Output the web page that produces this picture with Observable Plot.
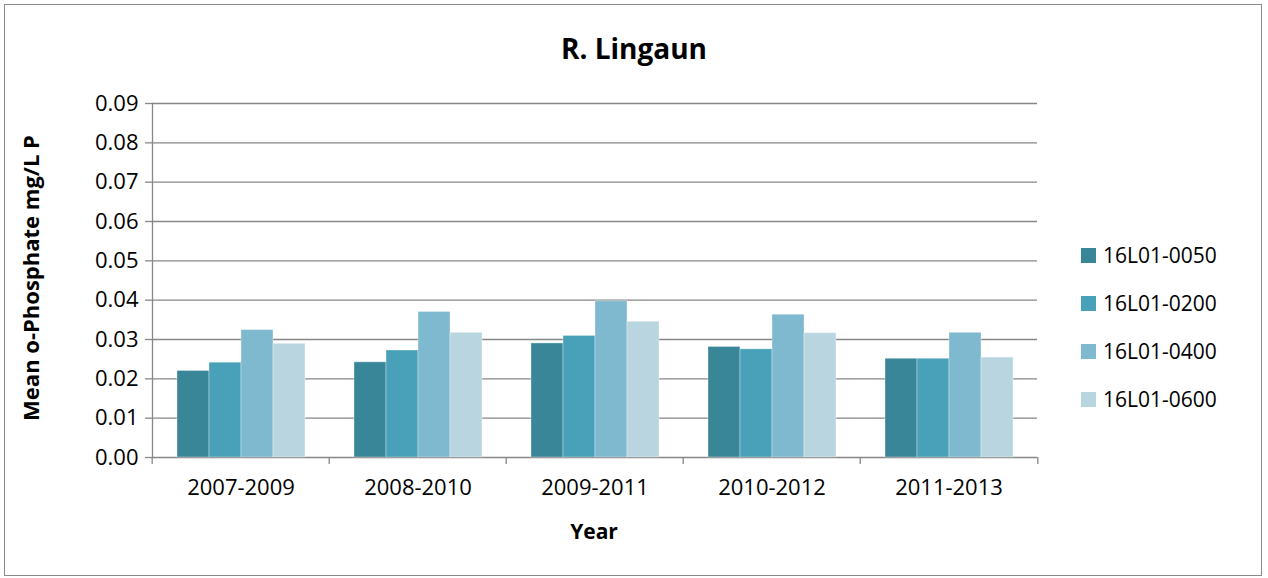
<!DOCTYPE html>
<html>
<head>
<meta charset="utf-8">
<script src="https://cdn.jsdelivr.net/npm/d3@7"></script>
<script src="https://cdn.jsdelivr.net/npm/@observablehq/plot@0.6"></script>
<style>
  html, body { margin: 0; padding: 0; background: #fff; }
  #wrap { position: relative; width: 1268px; height: 578px; overflow: hidden; background: #fff; font-family: "Open Sans", sans-serif; color: #000; }
  #border { position: absolute; left: 4px; top: 4px; width: 1258px; height: 572px; border: 1px solid #8a8a8a; box-sizing: border-box; }
  #chart { position: absolute; left: 0; top: 0; }
  #title { position: absolute; left: 0; top: 30px; width: 1268px; text-align: center; font-weight: bold; font-size: 28px; line-height: 36px; }
  #ylabel { position: absolute; left: 30px; top: 278px; white-space: nowrap; font-weight: bold; font-size: 22px; line-height: 26px; transform: translate(-50%, -50%) rotate(-90deg); }
  #xlabel { position: absolute; left: 150px; width: 888px; top: 518px; text-align: center; font-weight: bold; font-size: 21px; line-height: 26px; }
  #legend { position: absolute; left: 1081px; top: 231px; }
  .row { height: 48px; display: flex; align-items: center; font-size: 21px; }
  .sw { width: 15px; height: 15px; margin-right: 7px; }
</style>
</head>
<body>
<div id="wrap">
  <div id="border"></div>
  <div id="chart"></div>
  <div id="title">R. Lingaun</div>
  <div id="ylabel">Mean o-Phosphate mg/L P</div>
  <div id="xlabel">Year</div>
  <div id="legend"></div>
</div>
<script>
const periods = ["2007-2009", "2008-2010", "2009-2011", "2010-2012", "2011-2013"];
const stations = ["16L01-0050", "16L01-0200", "16L01-0400", "16L01-0600"];
const s0050 = [0.0220, 0.0242, 0.0290, 0.0281, 0.0251];
const s0200 = [0.0241, 0.0272, 0.0309, 0.0275, 0.0251];
const s0400 = [0.0324, 0.0370, 0.0397, 0.0363, 0.0317];
const s0600 = [0.0289, 0.0317, 0.0345, 0.0316, 0.0254];
const colors = ["#3a8699", "#48a1b9", "#7eb9cf", "#b8d5e0"];
const yTicks = [0, 0.01, 0.02, 0.03, 0.04, 0.05, 0.06, 0.07, 0.08, 0.09];

const series = [s0050, s0200, s0400, s0600];
const data = [];
periods.forEach((p, i) => {
  stations.forEach((s, j) => data.push({period: p, station: s, value: series[j][i]}));
});

const W = 1268, H = 578, ML = 150, MR = 230, MT = 103, MB = 121;
const bw = (W - ML - MR) / periods.length;
const gray = "#878787";

const chart = Plot.plot({
  width: W, height: H,
  marginLeft: ML, marginRight: MR, marginTop: MT, marginBottom: MB,
  style: {fontFamily: "Open Sans, sans-serif", fontSize: "22px", color: "#000", background: "transparent", overflow: "visible"},
  fx: {domain: periods, padding: 0, label: null},
  x: {domain: stations, paddingInner: 0, paddingOuter: 0.75, axis: null},
  y: {domain: [0, 0.09], label: null},
  color: {domain: stations, range: colors},
  marks: [
    Plot.gridY(yTicks, {stroke: gray, strokeOpacity: 1, strokeWidth: 1.3}),
    Plot.barY(data, {fx: "period", x: "station", y: "value", fill: "station", stroke: "#ffffff", strokeOpacity: 0.35, strokeWidth: 1}),
    Plot.frame({anchor: "left", facetAnchor: "left", stroke: gray, strokeWidth: 1.3}),
    Plot.axisY({ticks: yTicks, tickFormat: d => d.toFixed(2), tickSize: 7, tickPadding: 7, stroke: gray, strokeWidth: 1.3, label: null, fontSize: 22}),
    Plot.axisFx({anchor: "bottom", ticks: periods, text: null, tickSize: 7, dx: -bw / 2, stroke: gray, strokeWidth: 1.3, label: null}),
    Plot.axisFx({anchor: "bottom", ticks: periods.slice(-1), text: null, tickSize: 7, dx: bw / 2, stroke: gray, strokeWidth: 1.3, label: null}),
    Plot.axisFx({anchor: "bottom", ticks: periods, tickSize: 0, tickPadding: 22, label: null, fontSize: 22})
  ]
});
document.getElementById("chart").appendChild(chart);

const legend = document.getElementById("legend");
stations.forEach((s, i) => {
  const row = document.createElement("div");
  row.className = "row";
  const sw = document.createElement("div");
  sw.className = "sw";
  sw.style.background = colors[i];
  const t = document.createElement("span");
  t.textContent = s;
  row.appendChild(sw);
  row.appendChild(t);
  legend.appendChild(row);
});
</script>
</body>
</html>
